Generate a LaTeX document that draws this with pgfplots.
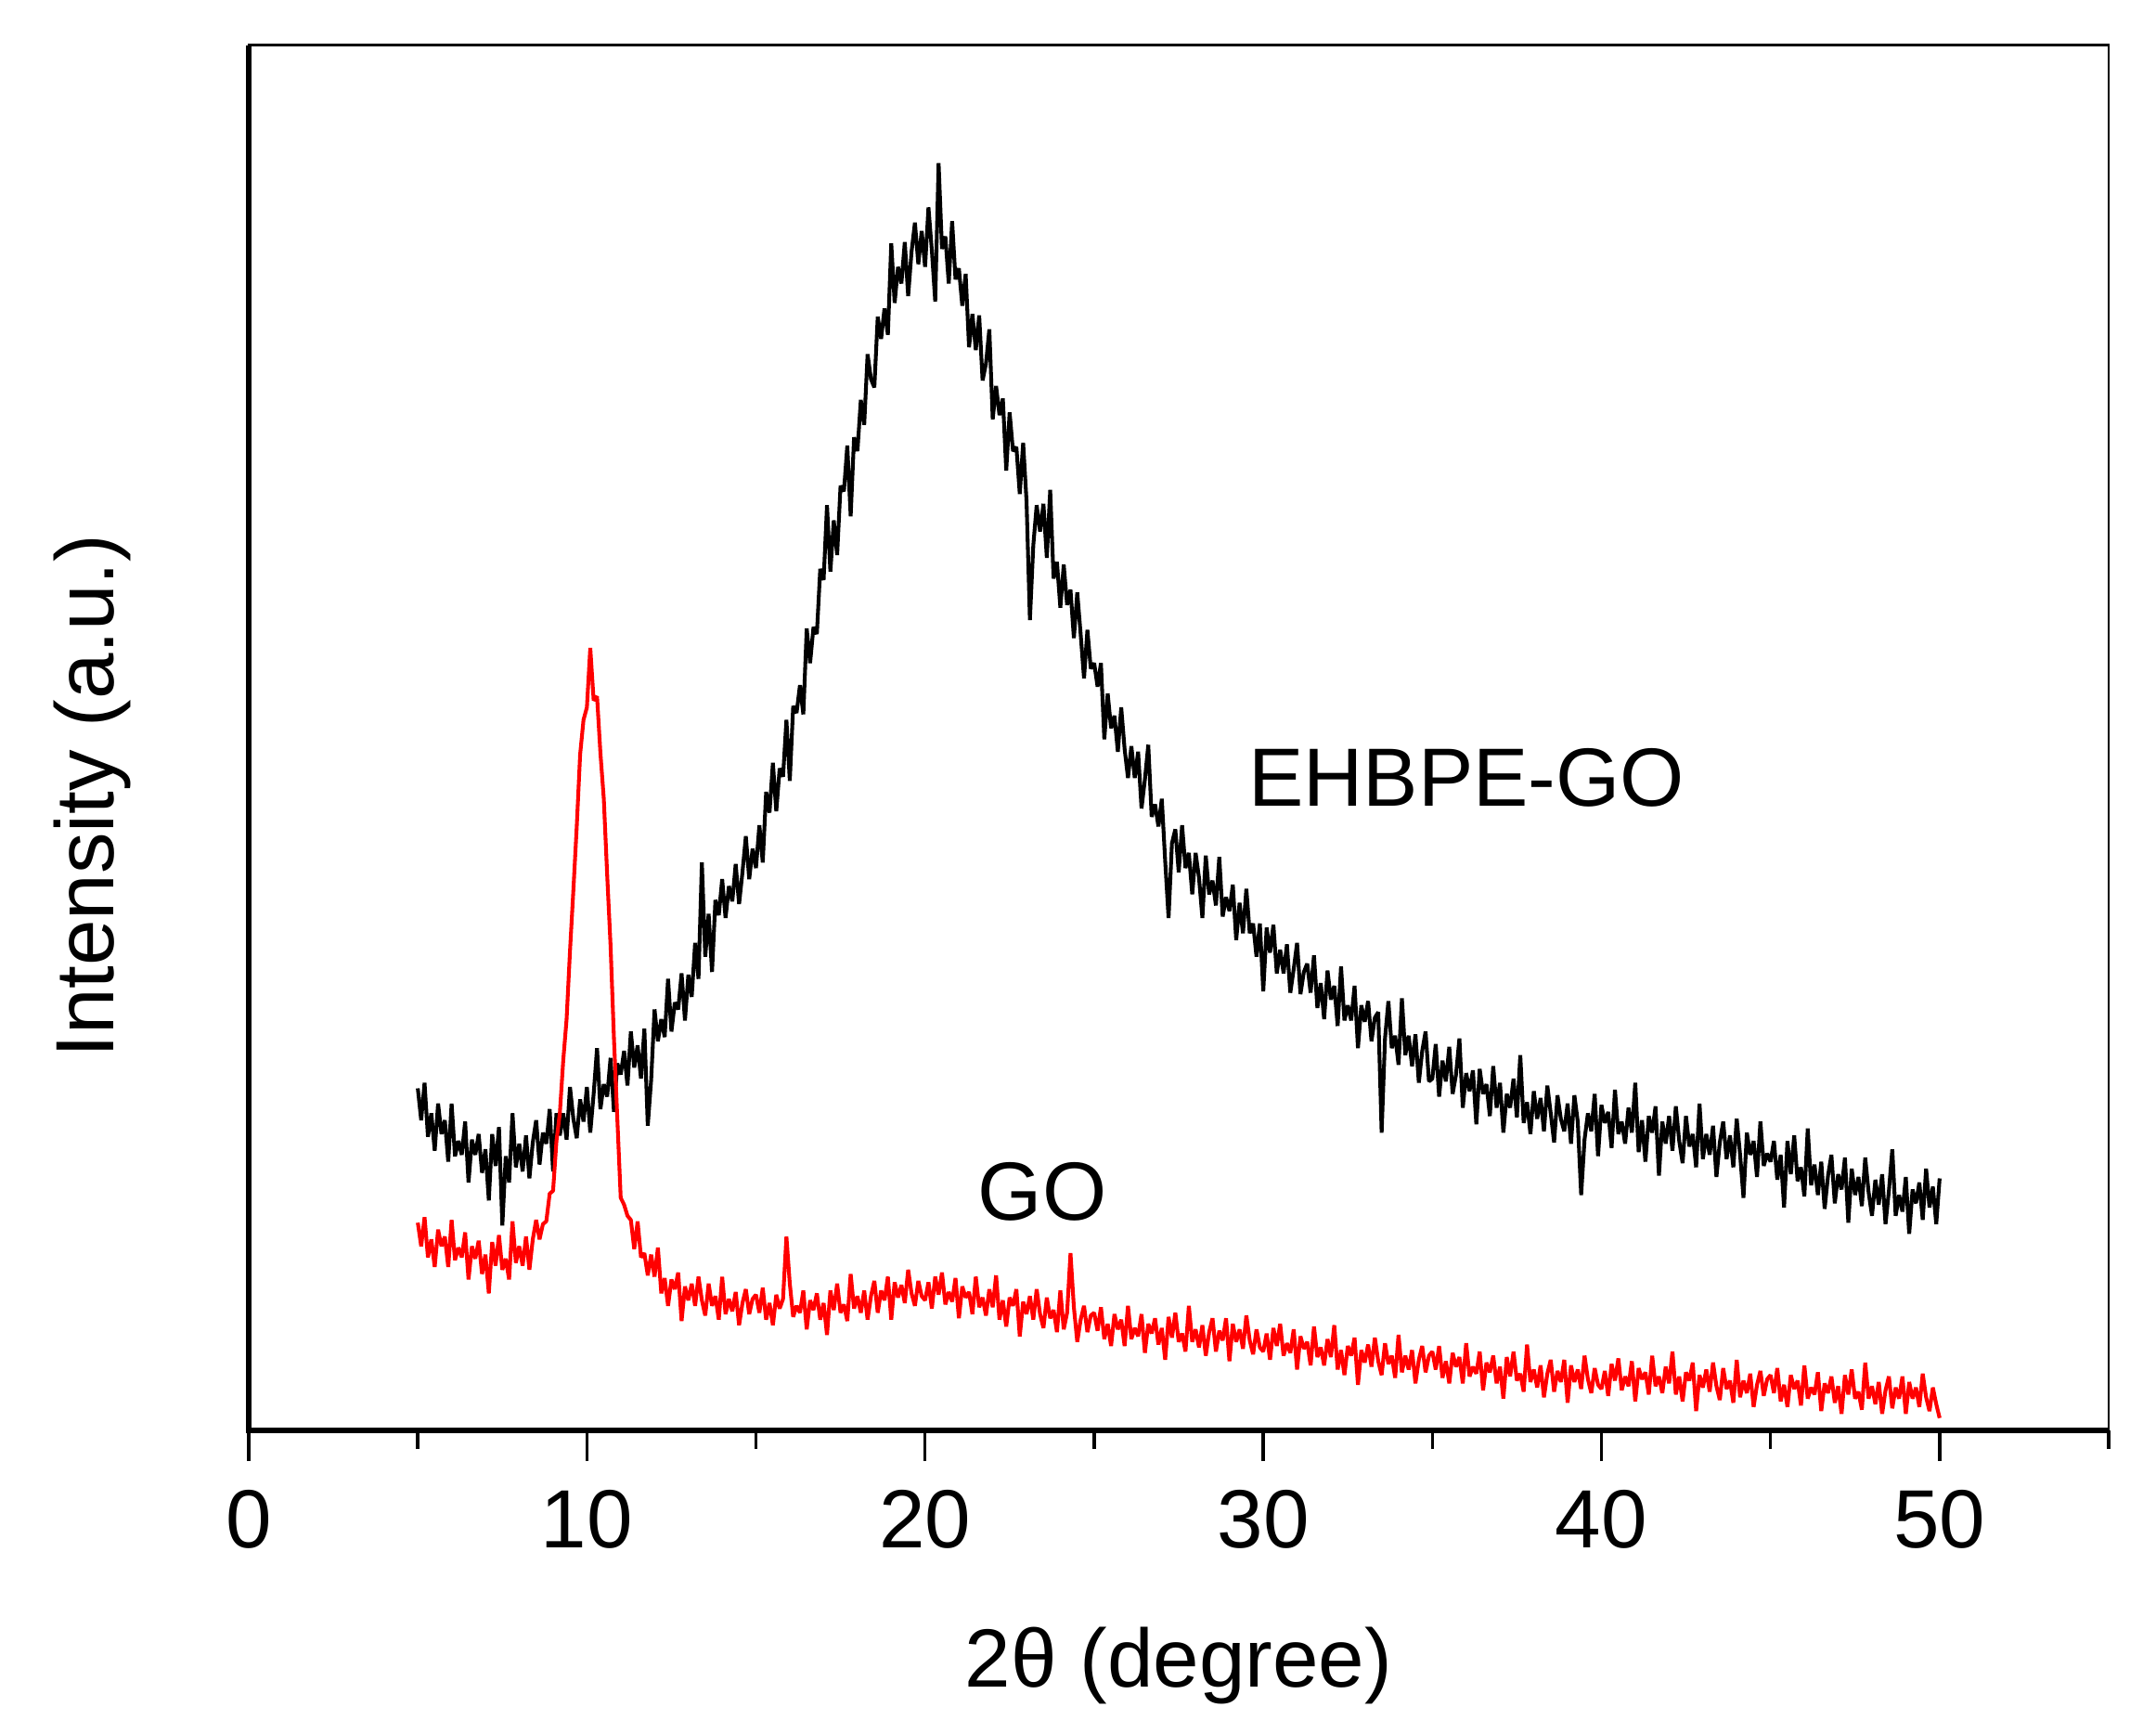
\documentclass[border=0pt]{standalone}
\usepackage{fontspec}
\setmainfont{Liberation Sans}
\usepackage{pgfplots}
\pgfplotsset{compat=1.18}
\begin{document}
\fontsize{12}{14}\selectfont
\begin{tikzpicture}
\useasboundingbox (0,0) rectangle (313.2pt,251.6pt);
\begin{axis}[
  at={(36.13pt,43.82pt)}, anchor=south west,
  scale only axis, width=270.2pt, height=201.2pt,
  xmin=0, xmax=55, ymin=0, ymax=100,
  xtick={0,10,20,30,40,50},
  minor xtick={5,15,25,35,45,55},
  ytick=\empty,
  xtick pos=bottom,
  tick align=outside,
  major tick length=4.45pt,
  minor tick length=2.7pt,
  tick style={black, line width=0.45pt},
  axis line style={line width=0.35pt},
  /pgf/number format/assume math mode=true,
  clip=false,
]
\addplot[black, line width=0.55pt, line join=bevel, mark=none] coordinates {
(5.0,24.7)(5.1,22.4)(5.2,25.1)(5.3,21.2)(5.4,22.9)(5.5,20.2)(5.6,23.6)(5.7,21.4)(5.8,22.4)(5.9,19.4)
(6.0,23.6)(6.1,19.8)(6.2,20.9)(6.3,19.9)(6.4,22.3)(6.5,17.9)(6.6,21.0)(6.7,19.9)(6.8,21.4)(6.9,18.6)
(7.0,20.3)(7.1,16.6)(7.2,21.4)(7.3,19.1)(7.4,21.9)(7.5,14.8)(7.6,19.8)(7.7,17.9)(7.8,22.9)(7.9,19.0)
(8.0,20.7)(8.1,18.7)(8.2,21.3)(8.3,18.2)(8.4,20.8)(8.5,22.4)(8.6,19.2)(8.7,21.5)(8.8,20.7)(8.9,23.2)
(9.0,18.7)(9.1,22.9)(9.2,21.3)(9.3,22.9)(9.4,21.0)(9.5,24.8)(9.6,22.5)(9.7,21.1)(9.8,23.9)(9.9,22.3)
(10.0,24.8)(10.1,21.5)(10.2,24.3)(10.3,27.6)(10.4,23.2)(10.5,25.0)(10.6,24.1)(10.7,26.9)(10.8,23.0)(10.9,26.5)
(11.0,25.7)(11.1,27.4)(11.2,24.9)(11.3,28.8)(11.4,26.2)(11.5,27.8)(11.6,25.4)(11.7,29.0)(11.8,22.0)(11.9,25.3)
(12.0,30.4)(12.1,28.1)(12.2,29.7)(12.3,28.4)(12.4,32.6)(12.5,28.8)(12.6,30.9)(12.7,30.4)(12.8,33.0)(12.9,29.6)
(13.0,32.9)(13.1,31.3)(13.2,35.2)(13.3,32.6)(13.4,41.0)(13.5,34.2)(13.6,37.3)(13.7,33.1)(13.8,38.3)(13.9,37.2)
(14.0,39.8)(14.1,37.0)(14.2,39.3)(14.3,38.2)(14.4,40.9)(14.5,38.0)(14.6,40.3)(14.7,42.9)(14.8,39.8)(14.9,42.0)
(15.0,40.6)(15.1,43.7)(15.2,41.0)(15.3,46.1)(15.4,44.6)(15.5,48.2)(15.6,44.7)(15.7,47.8)(15.8,47.2)(15.9,51.3)
(16.0,46.9)(16.1,52.3)(16.2,51.8)(16.3,53.8)(16.4,51.7)(16.5,57.9)(16.6,55.4)(16.7,58.0)(16.8,57.5)(16.9,62.2)
(17.0,61.4)(17.1,66.8)(17.2,62.0)(17.3,65.7)(17.4,63.2)(17.5,68.2)(17.6,67.8)(17.7,71.1)(17.8,66.0)(17.9,71.7)
(18.0,70.7)(18.1,74.4)(18.2,72.6)(18.3,77.7)(18.4,75.9)(18.5,75.3)(18.6,80.4)(18.7,78.8)(18.8,81.0)(18.9,79.1)
(19.0,85.7)(19.1,81.4)(19.2,84.0)(19.3,82.8)(19.4,85.8)(19.5,81.9)(19.6,85.1)(19.7,87.2)(19.8,84.2)(19.9,86.6)
(20.0,84.0)(20.1,88.3)(20.2,85.2)(20.3,81.5)(20.4,91.5)(20.5,85.3)(20.6,86.2)(20.7,82.8)(20.8,87.3)(20.9,83.1)
(21.0,83.9)(21.1,81.2)(21.2,83.5)(21.3,78.2)(21.4,80.6)(21.5,78.0)(21.6,80.5)(21.7,75.8)(21.8,77.0)(21.9,79.5)
(22.0,73.0)(22.1,75.4)(22.2,73.3)(22.3,74.5)(22.4,69.3)(22.5,73.5)(22.6,70.7)(22.7,71.0)(22.8,67.6)(22.9,71.3)
(23.0,67.1)(23.1,58.5)(23.2,63.9)(23.3,66.8)(23.4,64.9)(23.5,66.9)(23.6,63.0)(23.7,67.9)(23.8,61.5)(23.9,62.7)
(24.0,59.4)(24.1,62.5)(24.2,59.6)(24.3,60.7)(24.4,57.2)(24.5,60.5)(24.6,57.5)(24.7,54.3)(24.8,57.8)(24.9,55.0)
(25.0,55.4)(25.1,53.7)(25.2,55.4)(25.3,49.9)(25.4,53.2)(25.5,50.7)(25.6,51.6)(25.7,49.0)(25.8,52.2)(25.9,49.2)
(26.0,47.1)(26.1,49.4)(26.2,47.1)(26.3,49.0)(26.4,44.9)(26.5,47.0)(26.6,49.5)(26.7,44.3)(26.8,45.2)(26.9,43.6)
(27.0,45.6)(27.1,41.1)(27.2,37.0)(27.3,42.4)(27.4,43.4)(27.5,40.3)(27.6,43.7)(27.7,40.6)(27.8,41.7)(27.9,38.7)
(28.0,41.7)(28.1,39.9)(28.2,37.0)(28.3,41.5)(28.4,38.7)(28.5,39.7)(28.6,37.9)(28.7,41.4)(28.8,37.1)(28.9,38.5)
(29.0,37.5)(29.1,39.4)(29.2,35.4)(29.3,38.1)(29.4,35.9)(29.5,39.1)(29.6,35.9)(29.7,36.6)(29.8,34.2)(29.9,36.6)
(30.0,31.7)(30.1,36.3)(30.2,34.5)(30.3,36.5)(30.4,33.0)(30.5,34.7)(30.6,33.0)(30.7,35.1)(30.8,31.6)(30.9,33.3)
(31.0,35.2)(31.1,31.5)(31.2,33.1)(31.3,33.7)(31.4,31.6)(31.5,34.3)(31.6,30.5)(31.7,32.3)(31.8,29.7)(31.9,33.2)
(32.0,31.1)(32.1,32.1)(32.2,29.2)(32.3,33.5)(32.4,29.6)(32.5,30.7)(32.6,29.6)(32.7,32.1)(32.8,27.6)(32.9,30.7)
(33.0,29.5)(33.1,31.0)(33.2,28.1)(33.3,29.8)(33.4,30.2)(33.5,21.5)(33.6,28.3)(33.7,31.0)(33.8,27.6)(33.9,28.5)
(34.0,26.4)(34.1,31.2)(34.2,27.1)(34.3,28.5)(34.4,26.3)(34.5,28.6)(34.6,25.1)(34.7,27.4)(34.8,28.8)(34.9,25.2)
(35.0,25.4)(35.1,27.9)(35.2,24.1)(35.3,26.7)(35.4,25.2)(35.5,27.7)(35.6,24.3)(35.7,25.7)(35.8,28.3)(35.9,23.3)
(36.0,25.8)(36.1,24.5)(36.2,26.0)(36.3,22.1)(36.4,26.1)(36.5,24.3)(36.6,25.0)(36.7,22.7)(36.8,26.3)(36.9,23.3)
(37.0,25.1)(37.1,21.5)(37.2,24.3)(37.3,23.3)(37.4,25.4)(37.5,22.6)(37.6,27.1)(37.7,22.2)(37.8,23.7)(37.9,21.4)
(38.0,24.5)(38.1,22.5)(38.2,24.0)(38.3,21.6)(38.4,24.9)(38.5,22.9)(38.6,20.8)(38.7,24.2)(38.8,22.5)(38.9,21.6)
(39.0,23.6)(39.1,20.7)(39.2,24.2)(39.3,22.3)(39.4,17.0)(39.5,21.0)(39.6,22.9)(39.7,21.6)(39.8,24.3)(39.9,19.8)
(40.0,23.5)(40.1,22.2)(40.2,23.0)(40.3,20.4)(40.4,24.6)(40.5,21.4)(40.6,22.3)(40.7,20.7)(40.8,23.3)(40.9,21.5)
(41.0,25.1)(41.1,20.1)(41.2,22.4)(41.3,19.4)(41.4,22.7)(41.5,21.5)(41.6,23.4)(41.7,18.4)(41.8,22.3)(41.9,20.7)
(42.0,22.7)(42.1,20.2)(42.2,23.4)(42.3,20.9)(42.4,19.3)(42.5,22.7)(42.6,20.5)(42.7,21.4)(42.8,19.0)(42.9,23.6)
(43.0,19.6)(43.1,21.4)(43.2,19.9)(43.3,22.0)(43.4,18.3)(43.5,20.8)(43.6,22.3)(43.7,19.6)(43.8,21.3)(43.9,19.0)
(44.0,22.5)(44.1,19.9)(44.2,16.8)(44.3,21.5)(44.4,19.9)(44.5,20.9)(44.6,18.3)(44.7,22.3)(44.8,19.1)(44.9,20.0)
(45.0,19.4)(45.1,20.9)(45.2,18.1)(45.3,19.9)(45.4,16.1)(45.5,20.9)(45.6,18.5)(45.7,21.3)(45.8,18.0)(45.9,19.0)
(46.0,16.9)(46.1,21.8)(46.2,17.7)(46.3,19.2)(46.4,17.0)(46.5,19.4)(46.6,16.0)(46.7,18.4)(46.8,19.9)(46.9,16.4)
(47.0,18.5)(47.1,17.4)(47.2,19.7)(47.3,15.0)(47.4,18.9)(47.5,17.0)(47.6,18.3)(47.7,16.2)(47.8,19.7)(47.9,17.2)
(48.0,15.5)(48.1,18.1)(48.2,16.3)(48.3,18.5)(48.4,14.9)(48.5,17.3)(48.6,20.3)(48.7,15.5)(48.8,17.0)(48.9,15.8)
(49.0,18.3)(49.1,14.2)(49.2,17.4)(49.3,16.4)(49.4,17.9)(49.5,15.2)(49.6,18.9)(49.7,16.1)(49.8,17.6)(49.9,14.9)
(50.0,18.2)
};
\addplot[red, line width=0.55pt, line join=bevel, mark=none] coordinates {
(5.0,15.0)(5.1,13.3)(5.2,15.4)(5.3,12.5)(5.4,13.8)(5.5,11.8)(5.6,14.5)(5.7,13.3)(5.8,14.0)(5.9,11.8)
(6.0,15.2)(6.1,12.3)(6.2,13.2)(6.3,12.5)(6.4,14.3)(6.5,10.9)(6.6,13.3)(6.7,12.4)(6.8,13.7)(6.9,11.3)
(7.0,12.7)(7.1,9.9)(7.2,13.6)(7.3,11.9)(7.4,14.1)(7.5,11.6)(7.6,12.4)(7.7,10.9)(7.8,15.1)(7.9,12.1)
(8.0,13.3)(8.1,11.9)(8.2,14.0)(8.3,11.6)(8.4,13.8)(8.5,15.2)(8.6,13.8)(8.7,14.9)(8.8,15.1)(8.9,17.1)
(9.0,17.3)(9.1,20.9)(9.2,22.9)(9.3,26.7)(9.4,29.7)(9.5,34.6)(9.6,39.0)(9.7,43.6)(9.8,48.8)(9.9,51.3)
(10.0,52.2)(10.1,56.5)(10.2,52.7)(10.3,53.0)(10.4,48.9)(10.5,45.6)(10.6,40.1)(10.7,35.0)(10.8,28.3)(10.9,22.5)
(11.0,16.8)(11.1,16.3)(11.2,15.5)(11.3,15.2)(11.4,13.1)(11.5,15.1)(11.6,12.5)(11.7,12.8)(11.8,11.2)(11.9,12.7)
(12.0,11.1)(12.1,13.2)(12.2,9.9)(12.3,11.0)(12.4,9.0)(12.5,10.9)(12.6,10.2)(12.7,11.4)(12.8,7.9)(12.9,10.4)
(13.0,9.4)(13.1,10.6)(13.2,9.0)(13.3,11.1)(13.4,9.4)(13.5,8.3)(13.6,10.6)(13.7,9.0)(13.8,9.7)(13.9,8.0)
(14.0,11.1)(14.1,8.4)(14.2,9.5)(14.3,8.6)(14.4,10.0)(14.5,7.6)(14.6,9.2)(14.7,10.2)(14.8,8.4)(14.9,9.5)
(15.0,9.8)(15.1,8.5)(15.2,10.3)(15.3,8.0)(15.4,9.2)(15.5,7.6)(15.6,9.8)(15.7,8.8)(15.8,9.5)(15.9,14.0)
(16.0,10.6)(16.1,8.2)(16.2,9.0)(16.3,8.5)(16.4,10.1)(16.5,7.3)(16.6,9.4)(16.7,8.7)(16.8,9.9)(16.9,8.0)
(17.0,9.2)(17.1,6.9)(17.2,10.1)(17.3,8.7)(17.4,10.6)(17.5,8.5)(17.6,9.1)(17.7,7.9)(17.8,11.3)(17.9,8.8)
(18.0,9.7)(18.1,8.5)(18.2,10.1)(18.3,8.0)(18.4,9.7)(18.5,10.8)(18.6,8.5)(18.7,10.1)(18.8,9.4)(18.9,11.1)
(19.0,8.0)(19.1,10.7)(19.2,9.6)(19.3,10.5)(19.4,9.2)(19.5,11.6)(19.6,9.9)(19.7,9.0)(19.8,10.8)(19.9,9.7)
(20.0,9.4)(20.1,10.7)(20.2,8.8)(20.3,11.1)(20.4,9.8)(20.5,11.4)(20.6,9.1)(20.7,10.0)(20.8,9.3)(20.9,11.0)
(21.0,8.1)(21.1,10.4)(21.2,9.6)(21.3,10.0)(21.4,8.4)(21.5,11.1)(21.6,8.9)(21.7,9.6)(21.8,8.3)(21.9,10.2)
(22.0,8.9)(22.1,11.2)(22.2,8.0)(22.3,9.4)(22.4,7.5)(22.5,9.6)(22.6,9.0)(22.7,10.2)(22.8,6.8)(22.9,9.3)
(23.0,8.4)(23.1,9.7)(23.2,8.0)(23.3,10.2)(23.4,8.4)(23.5,7.4)(23.6,9.6)(23.7,8.1)(23.8,8.7)(23.9,7.1)
(24.0,10.1)(24.1,7.3)(24.2,8.5)(24.3,12.8)(24.4,8.9)(24.5,6.4)(24.6,8.0)(24.7,9.0)(24.8,7.1)(24.9,8.3)
(25.0,8.5)(25.1,7.2)(25.2,8.9)(25.3,6.6)(25.4,7.7)(25.5,6.1)(25.6,8.4)(25.7,7.3)(25.8,8.0)(25.9,6.1)
(26.0,9.0)(26.1,6.6)(26.2,7.4)(26.3,6.8)(26.4,8.4)(26.5,5.6)(26.6,7.7)(26.7,7.0)(26.8,8.1)(26.9,6.2)
(27.0,7.4)(27.1,5.1)(27.2,8.2)(27.3,6.7)(27.4,8.5)(27.5,6.4)(27.6,7.0)(27.7,5.7)(27.8,9.0)(27.9,6.4)
(28.0,7.3)(28.1,6.0)(28.2,7.6)(28.3,5.4)(28.4,7.1)(28.5,8.1)(28.6,5.7)(28.7,7.2)(28.8,6.5)(28.9,8.1)
(29.0,5.0)(29.1,7.7)(29.2,6.4)(29.3,7.3)(29.4,5.9)(29.5,8.3)(29.6,6.5)(29.7,5.5)(29.8,7.3)(29.9,6.0)
(30.0,5.7)(30.1,7.0)(30.2,5.1)(30.3,7.4)(30.4,6.1)(30.5,7.7)(30.6,5.4)(30.7,6.3)(30.8,5.6)(30.9,7.3)
(31.0,4.4)(31.1,6.8)(31.2,5.9)(31.3,6.4)(31.4,4.7)(31.5,7.5)(31.6,5.3)(31.7,6.0)(31.8,4.7)(31.9,6.6)
(32.0,5.3)(32.1,7.6)(32.2,4.4)(32.3,5.8)(32.4,4.0)(32.5,6.1)(32.6,5.4)(32.7,6.7)(32.8,3.3)(32.9,5.8)
(33.0,4.9)(33.1,6.2)(33.2,4.6)(33.3,6.7)(33.4,5.0)(33.5,4.0)(33.6,6.3)(33.7,4.8)(33.8,5.4)(33.9,3.8)
(34.0,6.9)(34.1,4.2)(34.2,5.4)(34.3,4.4)(34.4,5.8)(34.5,3.4)(34.6,5.1)(34.7,6.1)(34.8,4.2)(34.9,5.4)
(35.0,5.7)(35.1,4.4)(35.2,6.1)(35.3,3.8)(35.4,5.0)(35.5,3.4)(35.6,5.6)(35.7,4.6)(35.8,5.3)(35.9,3.4)
(36.0,6.3)(36.1,3.9)(36.2,4.6)(36.3,4.1)(36.4,5.7)(36.5,2.9)(36.6,4.9)(36.7,4.2)(36.8,5.4)(36.9,3.4)
(37.0,4.6)(37.1,2.3)(37.2,5.3)(37.3,3.9)(37.4,5.7)(37.5,3.6)(37.6,4.1)(37.7,2.8)(37.8,6.2)(37.9,3.5)
(38.0,4.4)(38.1,3.1)(38.2,4.7)(38.3,2.4)(38.4,4.1)(38.5,5.1)(38.6,2.8)(38.7,4.3)(38.8,3.5)(38.9,5.1)
(39.0,2.0)(39.1,4.7)(39.2,3.5)(39.3,4.4)(39.4,3.0)(39.5,5.4)(39.6,3.7)(39.7,2.7)(39.8,4.5)(39.9,3.3)
(40.0,3.0)(40.1,4.3)(40.2,2.5)(40.3,4.8)(40.4,3.6)(40.5,5.2)(40.6,2.9)(40.7,3.9)(40.8,3.2)(40.9,5.0)
(41.0,2.1)(41.1,4.5)(41.2,3.7)(41.3,4.2)(41.4,2.6)(41.5,5.4)(41.6,3.2)(41.7,3.9)(41.8,2.7)(41.9,4.6)
(42.0,3.4)(42.1,5.7)(42.2,2.6)(42.3,3.9)(42.4,2.1)(42.5,4.2)(42.6,3.6)(42.7,4.9)(42.8,1.4)(42.9,4.0)
(43.0,3.1)(43.1,4.4)(43.2,2.8)(43.3,4.9)(43.4,3.2)(43.5,2.2)(43.6,4.5)(43.7,3.0)(43.8,3.6)(43.9,2.0)
(44.0,5.1)(44.1,2.4)(44.2,3.6)(44.3,2.7)(44.4,4.1)(44.5,1.7)(44.6,3.3)(44.7,4.3)(44.8,2.5)(44.9,3.7)
(45.0,4.0)(45.1,2.7)(45.2,4.5)(45.3,2.1)(45.4,3.3)(45.5,1.7)(45.6,4.0)(45.7,3.0)(45.8,3.6)(45.9,1.8)
(46.0,4.7)(46.1,2.3)(46.2,3.1)(46.3,2.6)(46.4,4.2)(46.5,1.4)(46.6,3.4)(46.7,2.7)(46.8,3.9)(46.9,2.0)
(47.0,3.2)(47.1,1.2)(47.2,4.0)(47.3,2.6)(47.4,4.4)(47.5,2.3)(47.6,2.8)(47.7,1.5)(47.8,4.9)(47.9,2.3)
(48.0,3.2)(48.1,1.9)(48.2,3.5)(48.3,1.2)(48.4,2.9)(48.5,3.9)(48.6,1.6)(48.7,3.1)(48.8,2.3)(48.9,3.9)
(49.0,1.2)(49.1,3.5)(49.2,2.3)(49.3,3.1)(49.4,1.7)(49.5,4.1)(49.6,2.4)(49.7,1.4)(49.8,3.1)(49.9,1.9)
(50.0,0.9)
};
\draw[line width=0.7pt, line join=miter] (rel axis cs:0,1) -- (rel axis cs:0,0) -- (rel axis cs:1,0);
\node[anchor=base west, inner sep=0pt] at (axis cs:29.52,45.1) {EHBPE-GO};
\node[anchor=base west, inner sep=0pt] at (axis cs:21.53,15.2) {GO};
\node[anchor=base, inner sep=0pt] at (axis cs:27.5,-18.49) {2θ (degree)};
\node[anchor=base, inner sep=0pt, rotate=90] at (axis cs:-3.98,45.8) {Intensity (a.u.)};
\end{axis}
\end{tikzpicture}
\end{document}
